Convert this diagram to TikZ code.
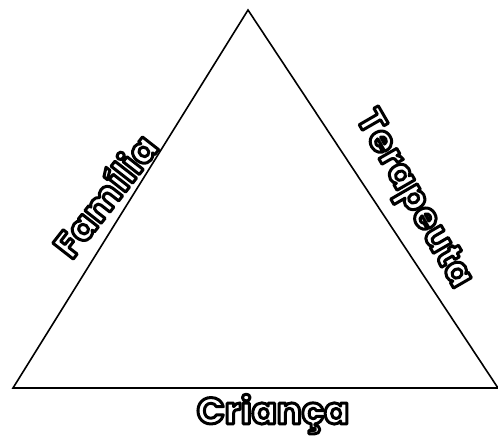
\documentclass[tikz,border=0pt]{standalone}
\usepackage{fontspec}
\newfontfamily\lblfont{Poppins}
\newcommand{\outlinetext}[2]{\special{pdf:literal direct q #1 w 1 j 2 Tr 0 G 1 g}#2\special{pdf:literal direct Q}}
\begin{document}
\begin{tikzpicture}[x=1pt,y=-1pt,
  side/.style={draw=black,line width=1.6pt,line join=miter},
  lbl/.style={font=\lblfont\bfseries\fontsize{37}{40}\selectfont,inner sep=0pt}]
\useasboundingbox (0,0) rectangle (498,439);
\coordinate (apex) at (248,10);
\coordinate (bl) at (13,388);
\coordinate (br) at (498,388);
\draw[side] (bl) -- (apex) -- (br) -- cycle;
\node[lbl,rotate=52] (fam) at (104,195) {\outlinetext{3}{Família}};
\node[lbl,rotate=-60] (ter) at (412,200) {\outlinetext{3}{Terapeuta}};
\node[lbl] (cri) at (273,414) {\outlinetext{3}{Criança}};
\end{tikzpicture}
\end{document}
